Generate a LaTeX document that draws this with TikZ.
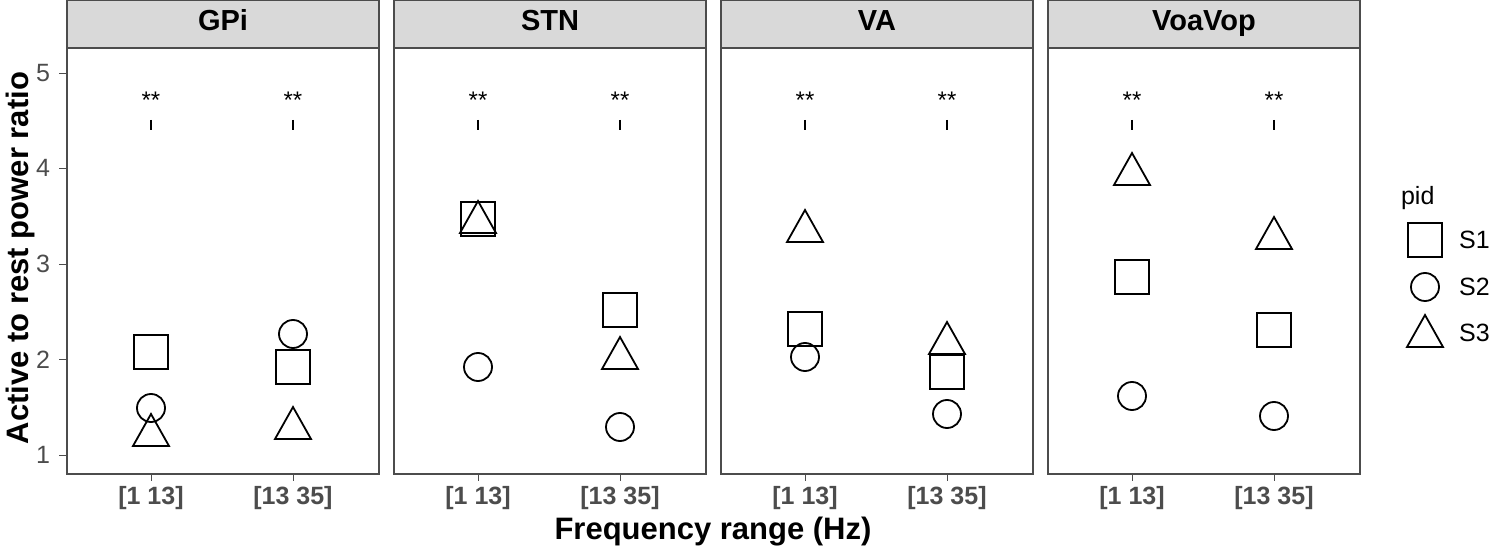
\documentclass[tikz,border=0pt]{standalone}
\usepackage{fontspec}
\setmainfont{Liberation Sans}
\begin{document}
\begin{tikzpicture}[x=0.5pt,y=-0.5pt,
  mk/.style={line width=0.9pt,black},
  tl/.style={text=black!70,font=\fontsize{12.5}{14}\selectfont\bfseries},
  yl/.style={text=black!70,font=\fontsize{12.5}{14}\selectfont,anchor=east}]
\useasboundingbox (0,0) rectangle (1500,550);
\def\sq#1#2{\draw[mk] (#1-17,#2-17) rectangle (#1+17,#2+17);}
\def\ci#1#2{\draw[mk] (#1,#2) circle (14);}
\def\tr#1#2{\draw[mk] (#1-18,#2+14) -- (#1+18,#2+14) -- (#1,#2-18) -- cycle;}
\foreach \L/\n in {67/GPi,394/STN,721/VA,1048/VoaVop}{
  \draw[fill=black!15,draw=black!70,line width=0.6pt] (\L,0) rectangle (\L+312,48);
  \node[font=\fontsize{14.5}{16}\selectfont\bfseries,text height=1.5ex,text depth=0.3ex] at (\L+156,24) {\n};
  \draw[draw=black!70,line width=0.6pt] (\L,48) rectangle (\L+312,474);
  \foreach \o/\t in {84/{[1 13]},226/{[13 35]}}{
    \node[font=\fontsize{12}{13}\selectfont] at (\L+\o,100) {**};
    \draw[line width=0.8pt] (\L+\o,120) -- (\L+\o,130);
    \draw[black!70] (\L+\o,474) -- (\L+\o,481);
    \node[tl] at (\L+\o,498) {\t};
  }
}
\foreach \v/\y in {1/455,2/359.5,3/264,4/168,5/73}{
  \draw[black!70] (59,\y) -- (67,\y);
  \node[yl] at (57,\y) {\v};
}
% GPi
\sq{151}{352}\ci{151}{408}\tr{151}{432}
\ci{293}{334}\sq{293}{367}\tr{293}{425}
% STN
\sq{478}{219}\tr{478}{219}\ci{478}{367}
\sq{620}{310}\tr{620}{355}\ci{620}{427}
% VA
\tr{805}{228}\sq{805}{329}\ci{805}{357}
\tr{947}{340}\sq{947}{372}\ci{947}{414}
% VoaVop
\tr{1132}{171}\sq{1132}{277}\ci{1132}{396}
\tr{1274}{235}\sq{1274}{330}\ci{1274}{416}
% legend
\node[anchor=west,font=\fontsize{12.5}{14}\selectfont] at (1394,198) {pid};
\sq{1425}{240}\ci{1425}{287}\tr{1425}{333}
\node[anchor=west,font=\fontsize{12.5}{14}\selectfont] at (1452,240) {S1};
\node[anchor=west,font=\fontsize{12.5}{14}\selectfont] at (1452,287) {S2};
\node[anchor=west,font=\fontsize{12.5}{14}\selectfont] at (1452,333) {S3};
% axis titles
\node[font=\fontsize{15.5}{17}\selectfont\bfseries] at (713,532) {Frequency range (Hz)};
\node[font=\fontsize{15.5}{17}\selectfont\bfseries,rotate=90] at (20,258) {Active to rest power ratio};
\end{tikzpicture}
\end{document}
